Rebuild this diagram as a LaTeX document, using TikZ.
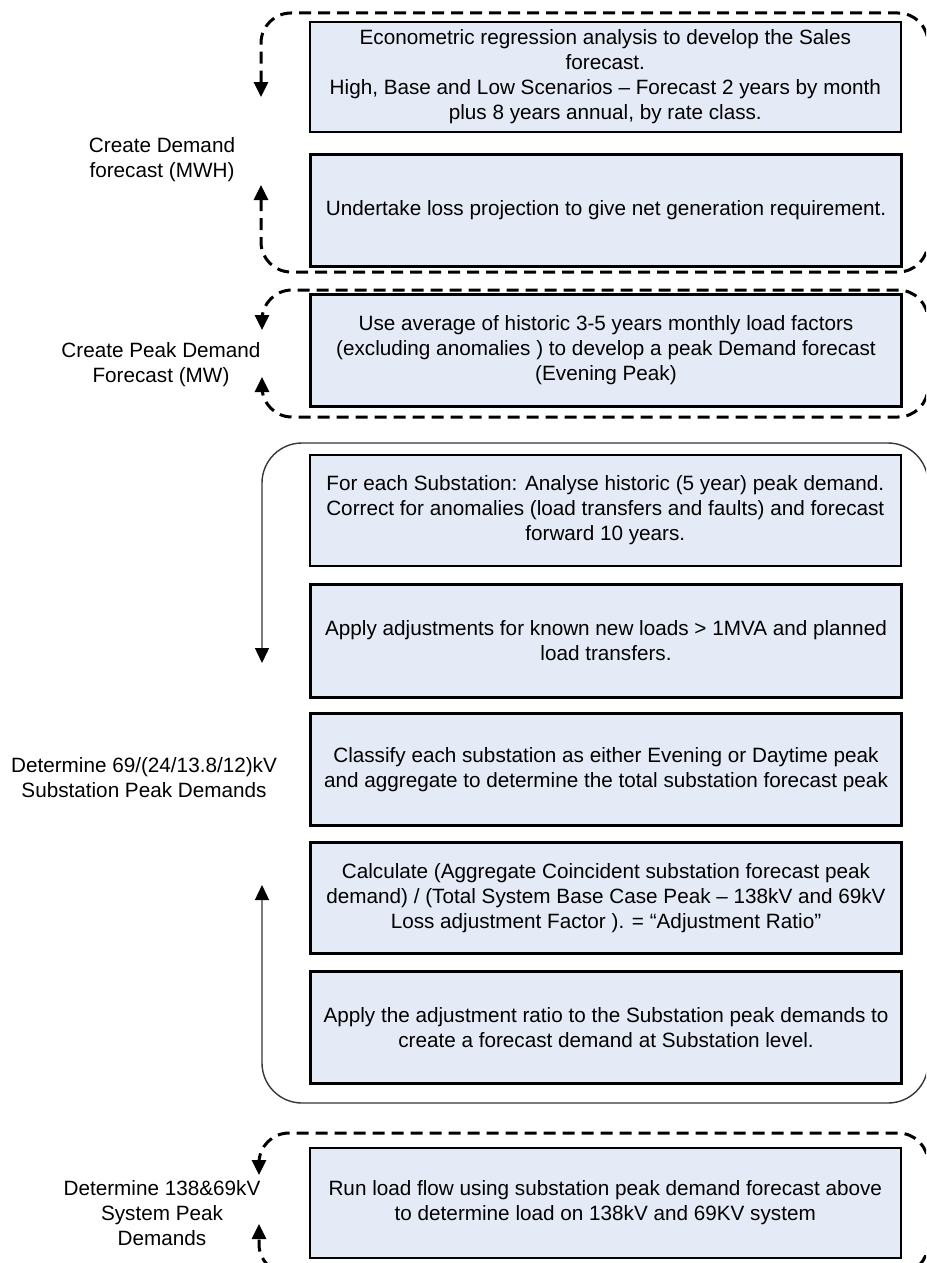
\documentclass[tikz,border=0pt]{standalone}
\usepackage{fontspec}
\setmainfont{Liberation Sans}
\usetikzlibrary{arrows.meta}
\definecolor{boxfill}{RGB}{229,235,246}
\definecolor{loopgray}{RGB}{55,55,55}

\begin{document}
\begin{tikzpicture}[x=1pt,y=-1pt,
  every node/.style={font=\fontsize{20.7}{25}\selectfont, align=center, inner sep=0pt, text=black},
  stepbox/.style={draw=black, fill=boxfill, minimum width=591pt, anchor=north west},
  thinbox/.style={stepbox, line width=1.6pt},
  thickbox/.style={stepbox, line width=3pt},
  sidelabel/.style={anchor=center},
  dashloop/.style={draw=black, line width=3pt, dash pattern=on 12pt off 7pt,
    rounded corners=30pt,
    arrows={Triangle[length=15pt,width=14pt]-Triangle[length=15pt,width=14pt]}},
  solidloop/.style={draw=loopgray, line width=1.4pt, rounded corners=40pt,
    arrows={Triangle[length=15pt,width=14pt,color=black]-Triangle[length=15pt,width=14pt,color=black]}}
]
\useasboundingbox (0,0) rectangle (926,1263);
\clip (0,0) rectangle (926,1263);
\fill[white] (0,0) rectangle (926,1263);

% --- Demand forecast (MWH) ---
\node[thinbox, minimum height=110pt] (sales) at (309,21)
  {Econometric regression analysis to develop the Sales\\forecast.\\High, Base and Low Scenarios -- Forecast 2 years by month\\plus 8 years annual, by rate class.};
\node[thickbox, minimum height=112pt] (loss) at (309,153)
  {Undertake loss projection to give net generation requirement.};
\node[sidelabel] (lblmwh) at (162,160) {Create Demand\\forecast (MWH)};
\coordinate (m1a) at (261,97);
\coordinate (m1b) at (261,185);
\draw[dashloop] (m1a) |- (928,13) |- (261,272) -- (m1b);

% --- Peak demand forecast (MW) ---
\node[thickbox, minimum height=112pt] (peak) at (309,293)
  {Use average of historic 3-5 years monthly load factors\\(excluding anomalies ) to develop a peak Demand forecast\\(Evening Peak)};
\node[sidelabel] (lblmw) at (161,365) {Create Peak Demand\\Forecast (MW)};
\coordinate (m2a) at (262,330);
\coordinate (m2b) at (262,377);
\draw[dashloop] (m2a) |- (928,290) |- (262,417) -- (m2b);

% --- Substation peak demands ---
\node[thinbox, minimum height=111pt] (hist) at (309,454)
  {For each Substation: Analyse historic (5 year) peak demand.\\Correct for anomalies (load transfers and faults) and forecast\\forward 10 years.};
\node[thickbox, minimum height=113pt] (adj) at (309,583)
  {Apply adjustments for known new loads > 1MVA and planned\\load transfers.};
\node[thickbox, minimum height=112pt] (classify) at (309,712)
  {Classify each substation as either Evening or Daytime peak\\and aggregate to determine the total substation forecast peak};
\node[thickbox, minimum height=111pt] (ratio) at (309,841)
  {Calculate (Aggregate Coincident substation forecast peak\\demand) / (Total System Base Case Peak -- 138kV and 69kV\\Loss adjustment Factor ). = “Adjustment Ratio”};
\node[thickbox, minimum height=112pt] (apply) at (309,970)
  {Apply the adjustment ratio to the Substation peak demands to\\create a forecast demand at Substation level.};
\node[sidelabel] (lblsub) at (144,778) {Determine 69/(24/13.8/12)kV\\Substation Peak Demands};
\coordinate (m3a) at (262,663);
\coordinate (m3b) at (262,885);
\draw[solidloop] (m3a) |- (928,443) |- (262,1103) -- (m3b);

% --- System peak demands ---
\node[thinbox, minimum height=110pt] (flow) at (309,1147)
  {Run load flow using substation peak demand forecast above\\to determine load on 138kV and 69KV system};
\node[sidelabel] (lblsys) at (162,1213) {Determine 138\&69kV\\System Peak\\Demands};
\coordinate (m4a) at (259,1175);
\coordinate (m4b) at (259,1224);
\draw[dashloop] (m4a) |- (928,1133) |- (259,1274) -- (m4b);
\end{tikzpicture}
\end{document}
